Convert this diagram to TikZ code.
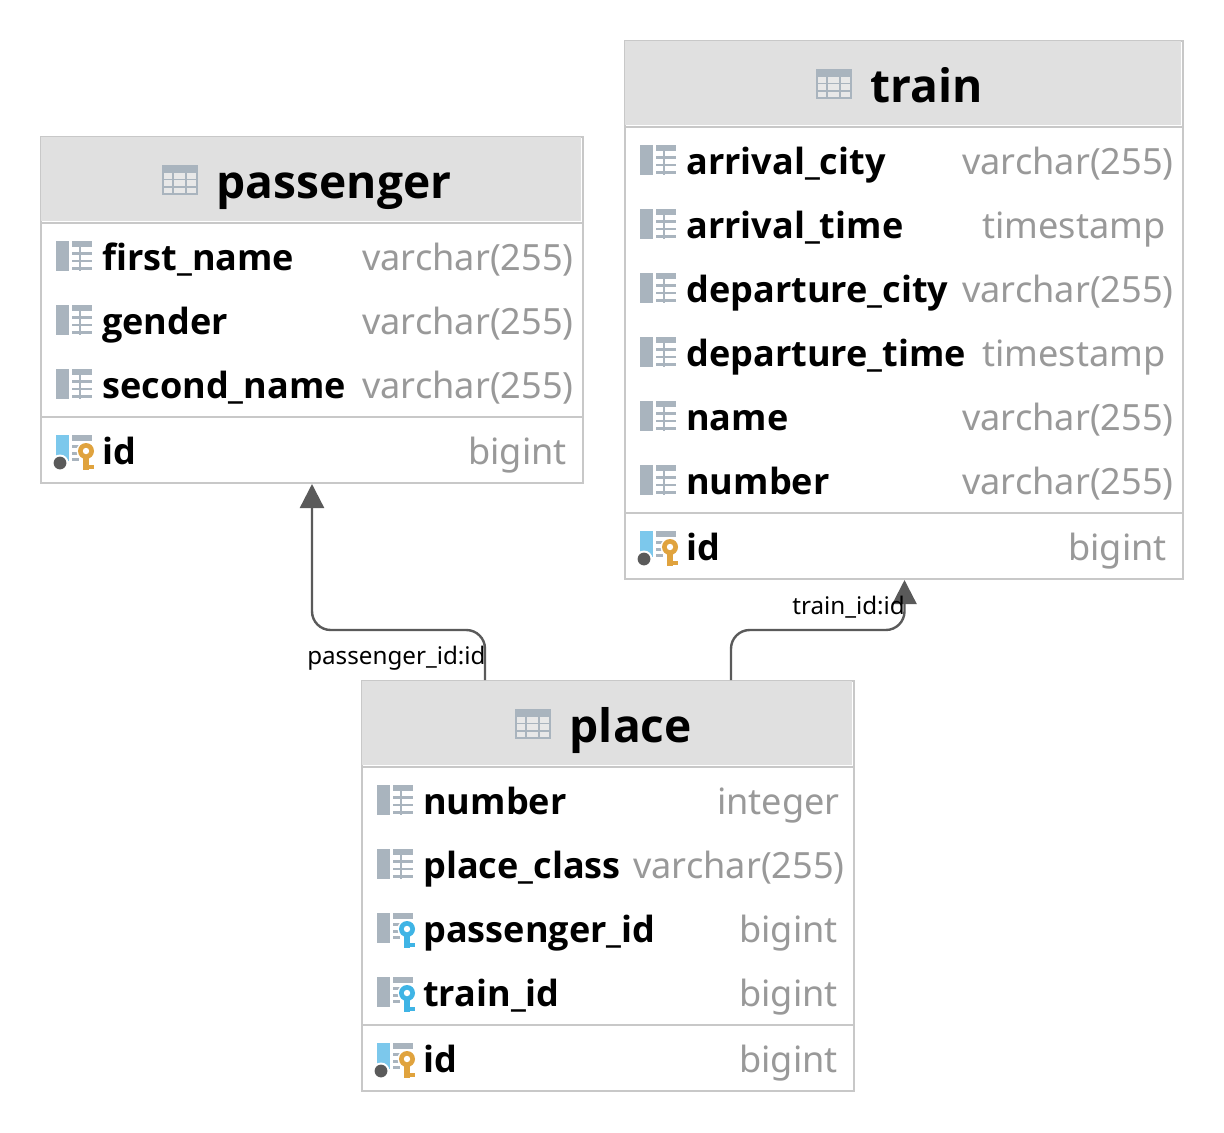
\documentclass[tikz,border=0pt]{standalone}
\usepackage{fontspec}
\setmainfont{Noto Sans}
\newfontfamily\heavy{Open Sans}[BoldFont={* Bold},Scale=1.0]
\usetikzlibrary{arrows.meta}
\definecolor{hdr}{HTML}{E0E0E0}
\definecolor{edge}{HTML}{C8C8C8}
\definecolor{icong}{HTML}{A9B4BE}
\definecolor{typeg}{HTML}{999999}
\definecolor{conn}{HTML}{5A5A5A}
\definecolor{pkblue}{HTML}{7CC8EC}
\definecolor{keygold}{HTML}{E0A33E}
\definecolor{keyblue}{HTML}{3FB4E5}
\definecolor{cellg}{HTML}{E8E8E8}
\tikzset{
  tablebox/.style={draw=edge,line width=1.5pt,fill=white,inner sep=0pt,anchor=north west},
  headbox/.style={fill=hdr,inner sep=0pt,anchor=north west},
  rule/.style={draw=edge,line width=1.5pt},
  title/.style={inner sep=0pt,anchor=base west,font=\heavy\fontsize{34.6}{40}\selectfont\bfseries},
  colname/.style={inner sep=0pt,anchor=base west,font=\heavy\fontsize{27.05}{32}\selectfont\bfseries},
  coltype/.style={inner sep=0pt,anchor=base west,text=typeg,font=\fontsize{27.1}{32}\selectfont},
  fklabel/.style={inner sep=0pt,anchor=base west,font=\fontsize{18.15}{22}\selectfont},
  link/.style={draw=conn,line width=1.8pt,rounded corners=14pt,-{Triangle[length=18pt,width=18pt]}}
}
\newcommand{\tblicon}[2]{%
  \begin{scope}[shift={(#1,#2)}]
    \fill[icong] (0,0) rectangle (36,30);
    \foreach \cx/\cw in {2/8,12/11,25/9}
      \foreach \cy in {8,15,22.5}
        \fill[cellg] (\cx,\cy) rectangle ++(\cw,5.5);
  \end{scope}}
\newcommand{\minigrid}{%
  \fill[icong] (15.5,0) rectangle (35.5,6);
  \foreach \ly in {10,16.5,23}
    \fill[icong] (15.5,\ly) rectangle ++(7.5,3);
}
\newcommand{\colicon}[2]{%
  \begin{scope}[shift={(#1,#2)}]
    \fill[icong] (0,0) rectangle (13,30);
    \fill[icong] (15.5,0) rectangle (35.5,6);
    \foreach \ly in {11,18.5,26} \fill[icong] (15.5,\ly) rectangle ++(20,2.5);
    \fill[icong] (22.5,6) rectangle ++(2.2,24);
  \end{scope}}
\newcommand{\keyshape}[1]{%
  \fill[white] (30,16) circle (9.5);
  \fill[#1] (27.3,18) rectangle (32.7,35);
  \fill[#1] (30,30) rectangle (37.5,34);
  \fill[#1] (30,16) circle (8);
  \fill[white] (30,16) circle (3.2);
}
\newcommand{\fkicon}[2]{%
  \begin{scope}[shift={(#1,#2)}]
    \fill[icong] (0,0) rectangle (13,30);
    \minigrid
    \keyshape{keyblue}
  \end{scope}}
\newcommand{\pkicon}[2]{%
  \begin{scope}[shift={(#1,#2)}]
    \fill[pkblue] (0,0) rectangle (13,26);
    \fill[white] (4,28) circle (8.5);
    \fill[conn] (4,28) circle (6.4);
    \minigrid
    \keyshape{keygold}
  \end{scope}}
\newcommand{\colrow}[7]{%
  \csname #1icon\endcsname{\the\numexpr#3-46\relax}{\the\numexpr#4-29\relax}
  \node[colname] (#2n) at (#3,#4) {#5};
  \node[coltype] (#2t) at (#6,#4) {#7};}
\begin{document}
\begin{tikzpicture}[x=0.75pt,y=-0.75pt]
\useasboundingbox (0,0) rectangle (1224,1132);
% passenger
\node[tablebox,minimum width=406.5pt,minimum height=259.5pt] (passenger) at (40,136) {};
\node[headbox,minimum width=405pt,minimum height=63pt] (passengerhead) at (41,137) {};
\draw[rule] (40,222.5) -- (582,222.5);
\draw[rule] (40,416.5) -- (582,416.5);
\tblicon{162}{165}
\node[title] (passengertitle) at (216.5,198) {passenger};
\colrow{col}{pa}{102}{270}{first\_name}{362}{varchar(255)}
\colrow{col}{pb}{102}{334}{gender}{362}{varchar(255)}
\colrow{col}{pc}{102}{398}{second\_name}{362}{varchar(255)}
\colrow{pk}{pd}{102}{464}{id}{468}{bigint}
% train
\node[tablebox,minimum width=418.5pt,minimum height=403.5pt] (train) at (624,40) {};
\node[headbox,minimum width=417pt,minimum height=63pt] (trainhead) at (625,41) {};
\draw[rule] (624,126.5) -- (1182,126.5);
\draw[rule] (624,512.5) -- (1182,512.5);
\tblicon{816}{69}
\node[title] (traintitle) at (870.5,102) {train};
\colrow{col}{ta}{686}{174}{arrival\_city}{962}{varchar(255)}
\colrow{col}{tb}{686}{238}{arrival\_time}{982}{timestamp}
\colrow{col}{tc}{686}{302}{departure\_city}{962}{varchar(255)}
\colrow{col}{td}{686}{366}{departure\_time}{982}{timestamp}
\colrow{col}{te}{686}{430}{name}{962}{varchar(255)}
\colrow{col}{tf}{686}{494}{number}{962}{varchar(255)}
\colrow{pk}{tg}{686}{560}{id}{1068}{bigint}
% place
\node[tablebox,minimum width=369pt,minimum height=307.5pt] (place) at (361,680) {};
\node[headbox,minimum width=367.5pt,minimum height=63pt] (placehead) at (362,681) {};
\draw[rule] (361,766.5) -- (853,766.5);
\draw[rule] (361,1024.5) -- (853,1024.5);
\tblicon{515}{709}
\node[title] (placetitle) at (569.5,742) {place};
\colrow{col}{la}{423}{814}{number}{717}{integer}
\colrow{col}{lb}{423}{878}{place\_class}{633}{varchar(255)}
\colrow{fk}{lc}{423}{942}{passenger\_id}{739}{bigint}
\colrow{fk}{ld}{423}{1006}{train\_id}{739}{bigint}
\colrow{pk}{le}{423}{1072}{id}{739}{bigint}
% connectors
\coordinate (fromp) at (485,680);
\coordinate (top) at (312,484);
\coordinate (fromt) at (731,680);
\coordinate (tot) at (904.5,580);
\draw[link] (fromp) -- (fromp |- 0,630) -- (top |- 0,630) -- (top);
\draw[link] (fromt) -- (fromt |- 0,630) -- (tot |- 0,630) -- (tot);
\node[fklabel] (lblp) at (307,664) {passenger\_id:id};
\node[fklabel] (lblt) at (792,614) {train\_id:id};
\end{tikzpicture}
\end{document}
